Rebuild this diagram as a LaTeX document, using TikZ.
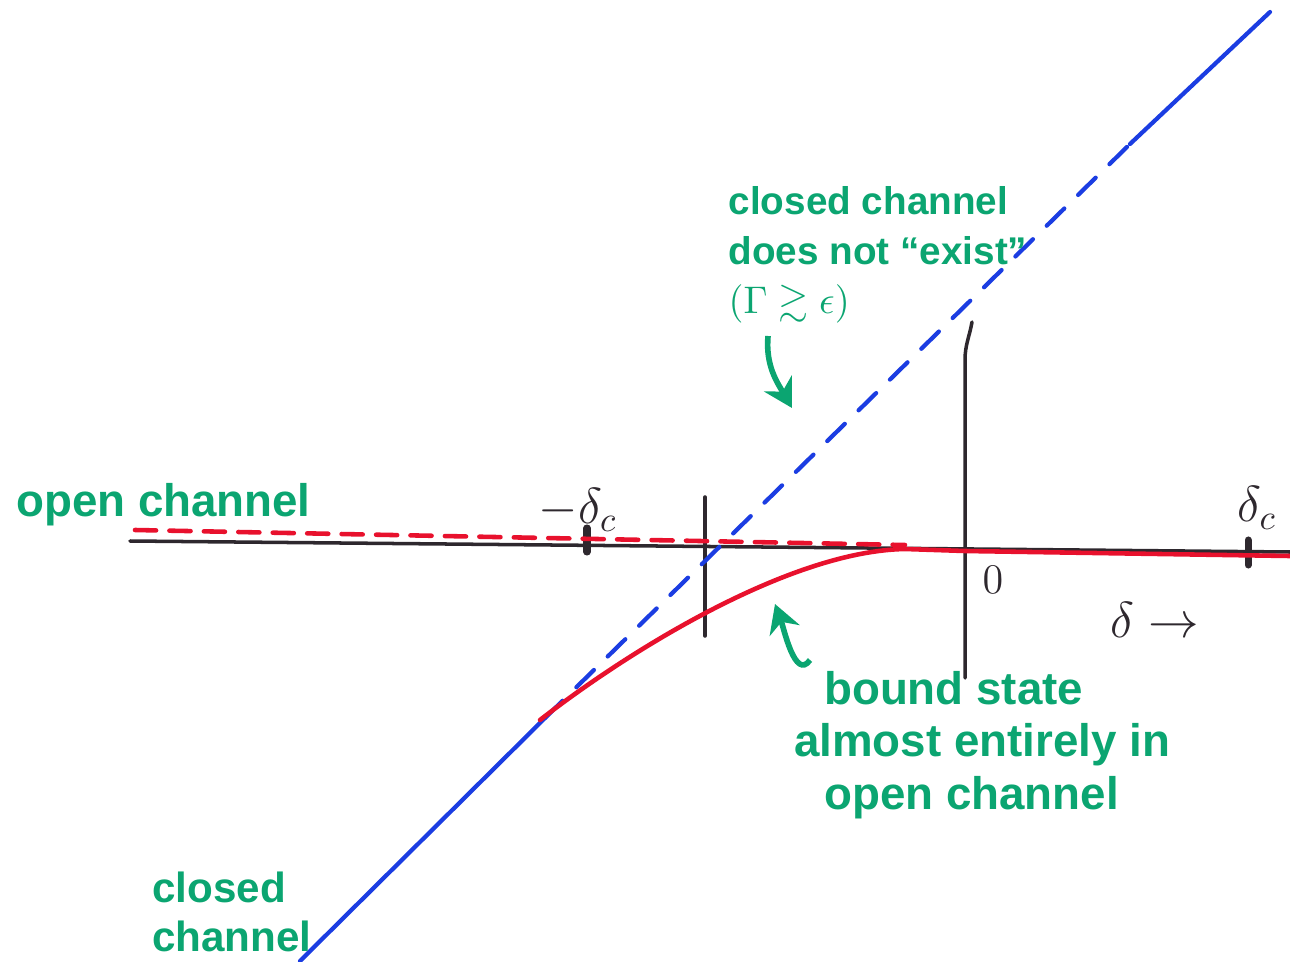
\documentclass[tikz,border=0pt]{standalone}
\usepackage{amssymb}
\usepackage{fontspec}
\setmainfont{Liberation Sans}
\usetikzlibrary{arrows.meta,positioning,calc}
\definecolor{inkgreen}{HTML}{0BA571}
\definecolor{inkred}{HTML}{E8112D}
\definecolor{inkblue}{HTML}{1B3DE2}
\definecolor{inkblack}{HTML}{2E282E}
\tikzset{
  axis/.style={inkblack,line width=1pt,line cap=round},
  closedline/.style={inkblue,line width=1.2pt,line cap=round},
  openline/.style={inkred,line width=1.3pt,line cap=round},
  note/.style={inkgreen,font=\bfseries\fontsize{13}{15}\selectfont,align=left,inner sep=1pt},
  lab/.style={inkblack,font=\Large,inner sep=1pt},
  pointer/.style={inkgreen,line width=1.6pt,-{Stealth[length=8pt,width=9pt]}},
}
\begin{document}
\begin{tikzpicture}[x=0.1mm,y=-0.1mm]
\useasboundingbox (0,0) rectangle (1290,961);

% axes
\coordinate (axl) at (130,541);
\coordinate (axr) at (1290,552);
\draw[axis] (axl) -- (axr);
\draw[axis] (705,497) coordinate (ct) -- (705,636) coordinate (cb);
\draw[axis] (972,322) coordinate (zt) to[out=260,in=90] (965,360) -- (965,678) coordinate (zb);
\draw[axis,line width=2pt] (587,528) coordinate (tlt) -- (587,552) coordinate (tlb);
\draw[axis,line width=2pt] (1248,540) coordinate (trt) -- (1248,565) coordinate (trb);

% closed channel
\coordinate (cc0) at (300,961);
\coordinate (cc1) at (545,718);
\coordinate (cc2) at (1130,144);
\coordinate (cc3) at (1270,12);
\draw[closedline] (cc0) -- (cc1);
\draw[closedline,dash pattern=on 7pt off 5.5pt] (cc1) -- (cc2);
\draw[closedline] (cc2) -- (cc3);

% open channel and bound state
\coordinate (oc0) at (135,530);
\coordinate (oc1) at (905,545);
\draw[openline,dash pattern=on 6pt off 3.8pt] (oc0) -- (oc1);
\coordinate (bs0) at (540,720);
\coordinate (bs1) at (905,549);
\coordinate (bs2) at (1290,556);
\draw[openline] (bs0) .. controls (630,650) and (790,551) .. (bs1) -- (965,551) -- (bs2);

% labels
\node[lab] (mdc) at (578,510) {$-\delta_c$};
\node[lab] (pdc) at (1257,508) {$\delta_c$};
\node[lab,font=\large] (zero) at (993,580) {$0$};
\node[lab] (dlt) at (1155,620) {$\delta \rightarrow$};

\node[note,anchor=west] (open) at (12,505) {open channel};
\node[note,anchor=west,font=\bfseries\fontsize{12}{14}\selectfont] (closed) at (148,912) {closed\\channel};
\node[note,font=\bfseries\fontsize{11}{14}\selectfont] (noexist) at (878,255) {closed channel\\does not ``exist''\\$(\Gamma \gtrsim \epsilon)$};
\node[note,anchor=west] (bound) at (790,745) {\hspace*{3mm}bound state\\almost entirely in\\\hspace*{3mm}open channel};

% pointers
\coordinate (p1s) at (768,336);
\coordinate (p1e) at (792,408);
\draw[pointer] (p1s) to[out=265,in=120] (p1e);
\coordinate (p2s) at (810,660);
\coordinate (p2e) at (775,604);
\draw[pointer] (p2s) to[out=235,in=290] (p2e);
\end{tikzpicture}
\end{document}
